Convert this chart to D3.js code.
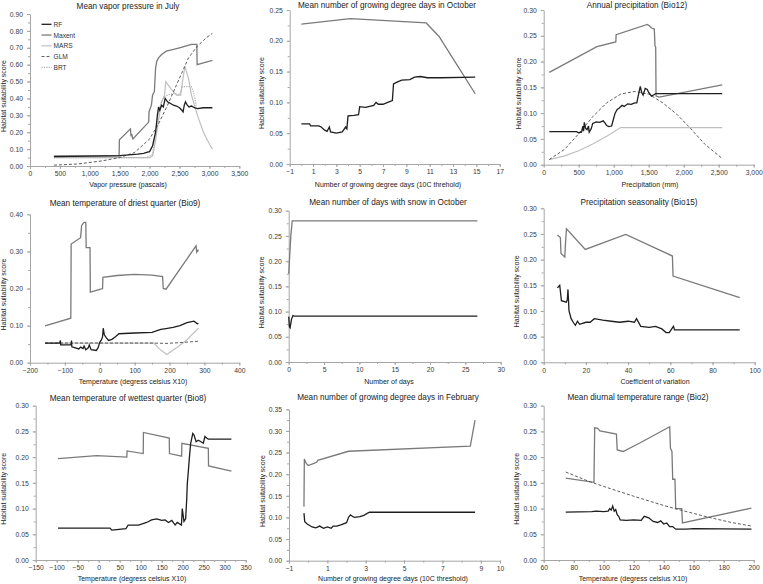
<!DOCTYPE html>
<html><head><meta charset="utf-8">
<script src="https://cdn.jsdelivr.net/npm/d3@7"></script>
<style>body{margin:0;background:#fff}svg{display:block;font-family:"Liberation Sans",Arial,sans-serif}</style>
</head><body><svg id="c" width="763" height="584"></svg>
<script>
// ---------- DATA ----------
// Panel 1: Mean vapor pressure in July
const vaporMaxent = [[400,0.06],[1490,0.06],[1495,0.155],[1680,0.22],[1690,0.175],[1700,0.19],[1720,0.16],[1985,0.26],[1990,0.32],[2030,0.36],[2050,0.42],[2080,0.44],[2100,0.58],[2120,0.62],[2150,0.64],[2200,0.66],[2280,0.68],[2400,0.69],[2500,0.70],[2600,0.71],[2700,0.72],[2790,0.72],[2795,0.60],[3050,0.625]];
const vaporRF = [[400,0.055],[1000,0.058],[1500,0.062],[1800,0.07],[1900,0.075],[1950,0.08],[2000,0.085],[2050,0.12],[2100,0.2],[2130,0.3],[2150,0.35],[2170,0.33],[2200,0.36],[2230,0.35],[2260,0.40],[2300,0.38],[2350,0.37],[2400,0.36],[2450,0.355],[2500,0.345],[2540,0.33],[2560,0.32],[2580,0.36],[2600,0.38],[2630,0.36],[2660,0.35],[2700,0.355],[2750,0.345],[2800,0.34],[2900,0.345],[3050,0.345]];
const vaporMARS = [[400,0.05],[2000,0.05],[2050,0.06],[2100,0.15],[2150,0.27],[2200,0.38],[2250,0.42],[2270,0.50],[2350,0.46],[2450,0.42],[2520,0.42],[2550,0.50],[2590,0.59],[2650,0.52],[2700,0.42],[2800,0.30],[2900,0.20],[3000,0.13],[3050,0.10]];
const vaporGLM = [[400,0.005],[800,0.012],[1200,0.03],[1500,0.05],[1750,0.08],[2000,0.16],[2150,0.25],[2300,0.36],[2450,0.48],[2550,0.56],[2650,0.64],[2800,0.71],[2950,0.76],[3050,0.785]];
const vaporBRT = [[400,0.05],[1950,0.05],[2050,0.07],[2100,0.2],[2150,0.32],[2200,0.38],[2250,0.41],[2300,0.42],[2400,0.43],[2500,0.42],[2550,0.47],[2700,0.47],[2740,0.43],[2760,0.40],[2780,0.35]];
// Panel 2: Mean number of growing degree days in October
const gddOctMaxent = [[0,0.227],[4.2,0.236],[10.7,0.229],[11.8,0.207],[13,0.171],[14.9,0.114]];
const gddOctRF = [[0,0.065],[0.7,0.065],[0.8,0.062],[1.5,0.062],[1.7,0.06],[2.0,0.055],[2.2,0.053],[2.4,0.06],[2.5,0.052],[3.0,0.05],[3.5,0.052],[3.8,0.06],[3.9,0.057],[4.0,0.078],[4.5,0.079],[4.9,0.08],[5.0,0.093],[5.5,0.092],[6.2,0.095],[6.4,0.1],[6.6,0.097],[7.0,0.097],[7.4,0.1],[7.8,0.103],[7.9,0.13],[8.2,0.133],[8.6,0.136],[9.3,0.137],[9.7,0.141],[10.2,0.142],[10.8,0.14],[12,0.14],[14.9,0.141]];
// Panel 3: Annual precipitation (Bio12)
const precipMaxent = [[80,0.179],[760,0.229],[1030,0.238],[1035,0.252],[1480,0.272],[1520,0.268],[1540,0.265],[1580,0.263],[1590,0.23],[1600,0.228],[1605,0.133],[1650,0.131],[2550,0.155]];
const precipRF = [[80,0.064],[470,0.064],[500,0.062],[540,0.063],[560,0.075],[570,0.065],[580,0.082],[600,0.07],[620,0.068],[640,0.075],[650,0.063],[680,0.07],[700,0.08],[750,0.083],[800,0.082],[850,0.085],[880,0.08],[900,0.076],[930,0.074],[970,0.075],[1000,0.09],[1020,0.1],[1050,0.107],[1080,0.11],[1120,0.115],[1150,0.113],[1200,0.118],[1250,0.117],[1300,0.12],[1330,0.12],[1360,0.14],[1380,0.152],[1400,0.14],[1420,0.135],[1450,0.148],[1480,0.146],[1500,0.14],[1540,0.133],[1580,0.136],[1600,0.138],[2550,0.138]];
const precipGLM = [[80,0.01],[300,0.03],[500,0.06],[700,0.093],[900,0.12],[1100,0.137],[1300,0.142],[1500,0.137],[1700,0.12],[1900,0.098],[2100,0.07],[2300,0.04],[2550,0.012]];
const precipMARS = [[80,0.01],[300,0.017],[500,0.027],[700,0.04],[900,0.055],[1100,0.072],[2550,0.072]];
// Panel 4: Mean temperature of driest quarter (Bio9)
const bio9Maxent = [[-157,0.099],[-83,0.12],[-82,0.32],[-55,0.337],[-52,0.37],[-45,0.378],[-40,0.378],[-39,0.31],[-28,0.31],[-27,0.19],[-2,0.197],[8,0.20],[9,0.23],[50,0.235],[100,0.238],[150,0.236],[180,0.232],[182,0.20],[190,0.198],[276,0.315],[278,0.298],[283,0.305]];
const bio9RF = [[-157,0.053],[-115,0.053],[-113,0.06],[-112,0.048],[-82,0.048],[-81,0.06],[-80,0.043],[-70,0.04],[-60,0.037],[-55,0.042],[-48,0.038],[-45,0.045],[-40,0.035],[-33,0.04],[-30,0.048],[-25,0.035],[-10,0.033],[-5,0.04],[0,0.055],[5,0.062],[8,0.07],[10,0.093],[13,0.075],[18,0.068],[25,0.06],[35,0.063],[45,0.07],[55,0.078],[100,0.08],[150,0.082],[160,0.085],[175,0.09],[190,0.092],[210,0.095],[230,0.1],[250,0.108],[270,0.112],[280,0.105],[283,0.106]];
const bio9GLM = [[-157,0.053],[150,0.053],[190,0.052],[230,0.054],[283,0.058]];
const bio9MARS = [[-157,0.053],[155,0.053],[170,0.038],[192,0.022],[220,0.04],[250,0.062],[283,0.093]];
// Panel 5: Mean number of days with snow in October
const snowMaxent = [[0,0.175],[0.3,0.25],[0.5,0.28],[26.7,0.28]];
const snowRF = [[0,0.09],[0.1,0.07],[0.2,0.068],[0.4,0.085],[0.6,0.092],[0.8,0.091],[26.7,0.091]];
// Panel 6: Precipitation seasonality (Bio15)
const bio15Maxent = [[6.5,0.248],[7.9,0.243],[8.2,0.212],[10,0.205],[10.3,0.23],[10.8,0.26],[19.7,0.22],[38.9,0.249],[61,0.207],[61.3,0.168],[92.9,0.126]];
const bio15RF = [[6.5,0.145],[7.6,0.15],[8.4,0.12],[10.7,0.117],[11.2,0.122],[11.5,0.142],[12,0.10],[13,0.085],[14,0.078],[15,0.072],[16,0.08],[17,0.074],[20,0.078],[22,0.078],[24,0.085],[28,0.082],[32,0.08],[36,0.078],[40,0.08],[43,0.078],[44,0.085],[46,0.07],[50,0.068],[53,0.07],[56,0.065],[58,0.058],[59.5,0.058],[61,0.067],[61.5,0.07],[62,0.063],[92.9,0.063]];
// Panel 7: Mean temperature of wettest quarter (Bio8)
const bio8Maxent = [[-97,0.197],[-5,0.203],[67,0.2],[67.5,0.212],[106,0.207],[106.5,0.248],[168,0.237],[168.5,0.207],[197.5,0.202],[198,0.227],[261,0.217],[261.5,0.183],[316,0.173]];
const bio8RF = [[-97,0.062],[27,0.062],[31,0.058],[43,0.059],[65,0.061],[70,0.068],[95,0.068],[114,0.073],[126,0.078],[138,0.08],[150,0.077],[158,0.078],[166,0.073],[174,0.077],[182,0.068],[187,0.073],[197,0.068],[199,0.1],[203,0.075],[207,0.08],[209.5,0.117],[211,0.149],[213,0.168],[216,0.2],[219,0.227],[224,0.246],[227,0.243],[232,0.23],[237,0.233],[243.6,0.23],[249,0.227],[253,0.24],[257,0.237],[261,0.235],[316,0.235]];
// Panel 8: Mean number of growing degree days in February
const gddFebMaxent = [[-0.22,0.125],[-0.2,0.235],[-0.1,0.225],[0,0.22],[0.3,0.225],[0.45,0.228],[0.5,0.232],[2.1,0.253],[8.45,0.265],[8.7,0.325]];
const gddFebRF = [[-0.22,0.11],[-0.18,0.09],[-0.05,0.085],[0.2,0.078],[0.4,0.076],[0.6,0.08],[0.8,0.075],[1.0,0.078],[1.2,0.075],[1.3,0.08],[1.5,0.08],[1.7,0.083],[2.0,0.088],[2.1,0.1],[2.2,0.106],[2.4,0.1],[2.7,0.102],[2.9,0.105],[3.1,0.11],[3.2,0.112],[8.7,0.112]];
// Panel 9: Mean diurnal temperature range (Bio2)
const bio2Maxent = [[74.7,0.159],[93.5,0.151],[94,0.257],[96,0.256],[97.5,0.251],[108.5,0.245],[109,0.214],[113,0.211],[125,0.229],[144,0.259],[144.5,0.217],[145.5,0.211],[146,0.157],[147.5,0.157],[148,0.1],[152,0.1],[152.5,0.072],[198.5,0.101]];
const bio2GLM = [[74.7,0.171],[90,0.153],[100,0.143],[120,0.124],[140,0.106],[150,0.098],[170,0.083],[185,0.073],[198.5,0.066]];
const bio2RF = [[74.7,0.093],[92,0.094],[95,0.095],[100,0.094],[103,0.095],[104,0.1],[105,0.097],[106,0.105],[107,0.095],[108,0.098],[109,0.088],[110,0.085],[111,0.078],[115,0.077],[120,0.078],[125,0.077],[127,0.085],[130,0.082],[133,0.075],[136,0.073],[138,0.076],[140,0.07],[142,0.072],[144,0.065],[146,0.065],[148,0.06],[155,0.06],[160,0.061],[198.5,0.06]];

const titles = ["Mean vapor pressure in July","Mean number of growing degree days in October","Annual precipitation (Bio12)",
  "Mean temperature of driest quarter (Bio9)","Mean number of days with snow in October","Precipitation seasonality (Bio15)",
  "Mean temperature of wettest quarter (Bio8)","Mean number of growing degree days in February","Mean diurnal temperature range (Bio2)"];
const xLabels = ["Vapor pressure (pascals)","Number of growing degree days (10C threhold)","Precipitation (mm)",
  "Temperature (degress celsius X10)","Number of days","Coefficient of variation",
  "Temperature (degress celsius X10)","Number of growing degree days (10C threshold)","Temperature (degress celsius X10)"];
const yLabel = "Habitat suitability score";
const legendNames = ["RF","Maxent","MARS","GLM","BRT"];

// ---------- STYLE ----------
const styles = {
  RF:{stroke:"#1e1e1e",w:1.3,dash:null},
  Maxent:{stroke:"#7a7a7a",w:1.3,dash:null},
  MARS:{stroke:"#bfbfbf",w:1.2,dash:null},
  GLM:{stroke:"#4a4a4a",w:0.9,dash:"3,2"},
  BRT:{stroke:"#b0b0b0",w:1.2,dash:"1.2,1.2"}
};
const rng=(a,b,s)=>d3.range(0,Math.round((b-a)/s)+1).map(i=>+(a+i*s).toFixed(6));
const f2=d3.format(".2f"), fc=d3.format(",");

const panels = [
 {l:30,r:239.3,t:14,b:166,xd:[0,3500],xt:rng(0,3500,500),xm:rng(0,3500,250),xf:fc,yd:[0,0.9],yt:rng(0,0.9,0.1),
  tx:128,ty:8.5,lx:128,ly:187,yx:3.5,
  series:[["Maxent",vaporMaxent],["MARS",vaporMARS],["BRT",vaporBRT],["GLM",vaporGLM],["RF",vaporRF]],legend:true},
 {l:289.7,r:499.7,t:10,b:164,xd:[-1,17],xt:rng(-1,17,2),xm:rng(-1,17,1),xf:d3.format("d"),yd:[0,0.25],yt:rng(0,0.25,0.05),
  tx:387,ty:7.5,lx:388,ly:187,yx:261.5,
  series:[["Maxent",gddOctMaxent],["RF",gddOctRF]]},
 {l:543.7,r:753.7,t:10,b:164.7,xd:[0,3000],xt:rng(0,3000,500),xm:rng(0,3000,250),xf:fc,yd:[0,0.3],yt:rng(0,0.3,0.05),
  tx:637,ty:7.5,lx:650,ly:187,yx:518,
  series:[["Maxent",precipMaxent],["MARS",precipMARS],["GLM",precipGLM],["RF",precipRF]]},
 {l:30,r:239.3,t:214.3,b:362.7,xd:[-200,400],xt:rng(-200,400,100),xm:rng(-200,400,50),xf:d3.format("d"),yd:[0,0.4],yt:rng(0,0.4,0.1),
  tx:125,ty:206,lx:133,ly:384,yx:3.5,
  series:[["Maxent",bio9Maxent],["MARS",bio9MARS],["GLM",bio9GLM],["RF",bio9RF]]},
 {l:288.7,r:500.7,t:210.7,b:362,xd:[0,30],xt:rng(0,30,5),xm:rng(0,30,2.5),xf:d3.format("d"),yd:[0,0.3],yt:rng(0,0.3,0.05),
  tx:388,ty:204.5,lx:389,ly:384,yx:261.5,
  series:[["Maxent",snowMaxent],["RF",snowRF]]},
 {l:543.7,r:754.7,t:208.3,b:362.3,xd:[0,100],xt:rng(0,100,20),xm:rng(0,100,10),xf:d3.format("d"),yd:[0,0.3],yt:rng(0,0.3,0.05),
  tx:639,ty:204.5,lx:655,ly:383.5,yx:516,
  series:[["Maxent",bio15Maxent],["RF",bio15RF]]},
 {l:35.7,r:245.7,t:405.7,b:560,xd:[-150,350],xt:rng(-150,350,50),xm:rng(-150,350,25),xf:d3.format("d"),yd:[0,0.3],yt:rng(0,0.3,0.05),
  tx:128,ty:401,lx:132,ly:580.5,yx:3.5,
  series:[["Maxent",bio8Maxent],["RF",bio8RF]]},
 {l:289,r:500,t:409.3,b:560.7,xd:[-1,10],xt:[-1,1,3,5,7,9,10],xm:rng(-1,10,1),xf:d3.format("d"),yd:[0,0.35],yt:rng(0,0.35,0.05),
  tx:388,ty:399.5,lx:393,ly:580.5,yx:262,
  series:[["Maxent",gddFebMaxent],["RF",gddFebRF]]},
 {l:543.7,r:753.7,t:405.7,b:560,xd:[60,200],xt:rng(60,200,20),xm:rng(60,200,10),xf:d3.format("d"),yd:[0,0.3],yt:rng(0,0.3,0.05),
  tx:638,ty:399.5,lx:633,ly:580.5,yx:516,
  series:[["Maxent",bio2Maxent],["GLM",bio2GLM],["RF",bio2RF]]}
];

const svg = d3.select("#c");
svg.append("rect").attr("width",763).attr("height",584).attr("fill","#fff");
const axisCol="#a6a6a6", textCol="#3a3a3a";

panels.forEach((p,i)=>{
  const g = svg.append("g");
  const x = d3.scaleLinear().domain(p.xd).range([p.l,p.r]);
  const y = d3.scaleLinear().domain(p.yd).range([p.b,p.t]);
  g.append("g").attr("transform",`translate(0,${p.b})`)
    .call(d3.axisBottom(x).tickValues(p.xm).tickFormat("").tickSize(2).tickSizeOuter(0))
    .call(a=>a.select(".domain").remove()).selectAll("line").attr("stroke",axisCol);
  const ym = rng(p.yd[0],p.yd[1],(p.yt[1]-p.yt[0])/2);
  g.append("g").attr("transform",`translate(${p.l},0)`)
    .call(d3.axisLeft(y).tickValues(ym).tickFormat("").tickSize(2).tickSizeOuter(0))
    .call(a=>a.select(".domain").remove()).selectAll("line").attr("stroke",axisCol);
  const xa = g.append("g").attr("transform",`translate(0,${p.b})`)
    .call(d3.axisBottom(x).tickValues(p.xt).tickFormat(p.xf).tickSize(3).tickSizeOuter(0).tickPadding(2.5));
  const ya = g.append("g").attr("transform",`translate(${p.l},0)`)
    .call(d3.axisLeft(y).tickValues(p.yt).tickFormat(f2).tickSize(3).tickSizeOuter(0).tickPadding(4));
  [xa,ya].forEach(a=>{
    a.select(".domain").attr("stroke",axisCol);
    a.selectAll(".tick line").attr("stroke",axisCol);
    a.selectAll("text").attr("fill",textCol).style("font-size","6.8px").style("font-family",'"Liberation Sans",Arial,sans-serif');
  });
  const line = d3.line().x(d=>x(d[0])).y(d=>y(d[1]));
  p.series.forEach(([name,data])=>{
    const s=styles[name];
    g.append("path").attr("d",line(data)).attr("fill","none").attr("stroke",s.stroke)
      .attr("stroke-width",s.w).attr("stroke-dasharray",s.dash).attr("stroke-linejoin","miter");
  });
  g.append("text").attr("x",p.tx).attr("y",p.ty).attr("text-anchor","middle")
    .style("font-size","8.2px").attr("fill","#222").text(titles[i]);
  g.append("text").attr("x",p.lx).attr("y",p.ly).attr("text-anchor","middle")
    .style("font-size","7px").attr("fill","#222").text(xLabels[i]);
  g.append("text").attr("transform",`translate(${p.yx},${(p.t+p.b)/2+6}) rotate(-90)`)
    .attr("text-anchor","middle").attr("dominant-baseline","central")
    .style("font-size","7px").attr("fill","#222").text(yLabel);
  if(p.legend){
    legendNames.forEach((n,k)=>{
      const yy=24.3+k*10.75, s=styles[n];
      g.append("line").attr("x1",41.5).attr("x2",51.5).attr("y1",yy).attr("y2",yy)
        .attr("stroke",s.stroke).attr("stroke-width",s.w).attr("stroke-dasharray",s.dash);
      g.append("text").attr("x",53.5).attr("y",yy).attr("dominant-baseline","central")
        .style("font-size","6.6px").attr("fill","#333").text(n);
    });
  }
});
</script></body></html>
